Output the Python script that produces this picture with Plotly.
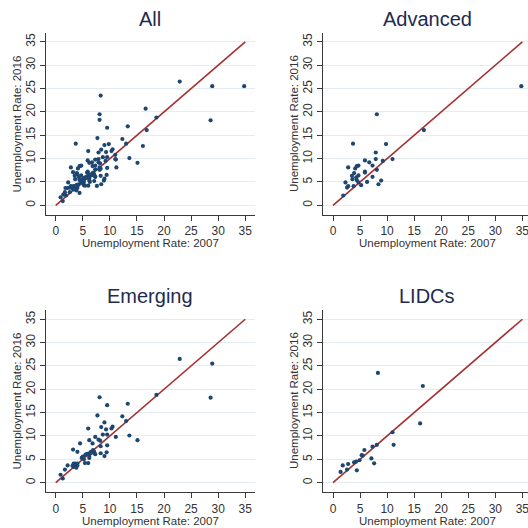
import plotly.graph_objects as go

# ---------------- data (unemployment rates, %) ----------------
adv_x = [34.8, 16.8, 8.1, 3.7, 9.8, 7.9, 11.0, 7.9, 5.9, 6.7, 9.2, 7.3, 4.7, 4.4, 2.8, 4.1, 8.1, 5.9,
         5.9, 3.9, 4.7, 3.5, 7.3, 4.3, 3.6, 4.4, 8.9, 2.3, 6.3, 4.7, 5.2, 8.4, 2.8, 2.6, 1.9, 3.8]
adv_y = [25.5, 16.1, 19.5, 13.2, 13.1, 11.3, 9.9, 9.9, 9.6, 9.2, 9.5, 8.5, 8.5, 8.4, 8.1, 7.9, 7.6, 7.2,
         7.0, 6.9, 6.4, 6.3, 6.1, 6.0, 5.6, 5.4, 5.3, 4.9, 5.0, 4.9, 4.3, 4.5, 4.1, 3.8, 2.1, 4.1]

emg_x = [22.9, 28.9, 28.6, 18.6, 8.1, 9.5, 13.3, 7.7, 12.3, 13.0, 6.0, 9.0, 10.5, 10.3, 9.3, 8.4,
         8.7, 9.5, 11.1, 13.6, 15.1, 7.3, 6.2, 7.9, 8.2, 4.5, 6.8, 9.5, 8.3, 3.2, 4.0, 9.4, 9.0,
         8.3, 7.3, 6.6, 6.9, 6.2, 5.5, 5.0, 5.4, 6.0, 6.2, 6.2, 4.8, 5.8, 6.5, 3.6, 3.3, 4.0, 3.6,
         4.0, 3.3, 3.8, 2.2, 1.7, 0.9, 1.3, 3.1, 5.2, 7.1]
emg_y = [26.5, 25.5, 18.2, 18.8, 18.3, 16.6, 16.9, 14.4, 14.2, 13.2, 11.6, 12.9, 12.0, 11.6, 11.4, 11.9,
         10.3, 10.3, 9.8, 10.1, 9.1, 9.8, 9.1, 9.2, 9.0, 8.4, 8.4, 8.0, 7.8, 7.1, 6.6, 6.5, 5.7,
         6.3, 6.1, 6.4, 7.0, 6.3, 6.0, 5.6, 4.2, 4.2, 5.3, 5.7, 5.3, 6.2, 6.6, 4.1, 4.1, 4.1, 3.7,
         3.7, 3.4, 3.2, 3.7, 2.8, 1.7, 0.9, 3.6, 5.0, 6.6]

lidc_x = [8.3, 16.6, 16.1, 11.0, 11.2, 8.1, 7.3, 5.8, 5.3, 7.1, 7.6, 4.9, 4.25, 3.9, 2.8, 1.8, 2.6,
          1.4, 4.4, 5.5]
lidc_y = [23.5, 20.7, 12.7, 10.8, 8.1, 8.1, 7.7, 7.0, 5.9, 5.2, 4.15, 4.8, 4.5, 4.35, 4.0, 3.7, 2.8,
          2.3, 2.65, 5.8]

all_x = adv_x + emg_x + lidc_x
all_y = adv_y + emg_y + lidc_y

panel_titles = ["All", "Advanced", "Emerging", "LIDCs"]
panel_data = [(all_x, all_y), (adv_x, adv_y), (emg_x, emg_y), (lidc_x, lidc_y)]
line_x = [0, 35]
line_y = [0, 35]
tick_vals = [0, 5, 10, 15, 20, 25, 30, 35]
x_title = "Unemployment Rate: 2007"
y_title = "Unemployment Rate: 2016"

# ---------------- layout geometry (pixels of 528x528 canvas) ----------------
W = H = 528
px = lambda v: v / W
py = lambda v: 1 - v / H

panels = [
    dict(xd=[px(45.7), px(255)], yd=[py(215), py(32.7)], xr=[-1.85, 36.8], yr=[-2.08, 36.96],
         tx=150, ty=19, xtx=150, xty=243, ytx=16.5, yty=124),
    dict(xd=[px(323), 1.0], yd=[py(215), py(32.7)], xr=[-1.85, 36.04], yr=[-2.08, 36.96],
         tx=427, ty=19, xtx=427, xty=243, ytx=294, yty=124),
    dict(xd=[px(45.7), px(255)], yd=[py(492.3), py(310)], xr=[-1.85, 36.8], yr=[-2.06, 36.98],
         tx=150, ty=296, xtx=150, xty=520.5, ytx=16.5, yty=401),
    dict(xd=[px(323), 1.0], yd=[py(492.3), py(310)], xr=[-1.85, 36.04], yr=[-2.06, 36.98],
         tx=427, ty=296, xtx=427, xty=520.5, ytx=294, yty=401),
]

FONT = "Liberation Sans, Arial, Helvetica, sans-serif"
MARKER = "#1d4670"
LINE = "#a5302f"
GRID = "#e4ecf2"
AXIS = "#3a3a3a"
TITLE = "#1e2b4f"

fig = go.Figure()
annotations = []
for i, (p, (xs, ys), title) in enumerate(zip(panels, panel_data, panel_titles)):
    n = "" if i == 0 else str(i + 1)
    fig.add_trace(go.Scatter(x=line_x, y=line_y, mode="lines",
                             line=dict(color=LINE, width=1.6),
                             xaxis="x" + n, yaxis="y" + n, showlegend=False, hoverinfo="skip"))
    fig.add_trace(go.Scatter(x=xs, y=ys, mode="markers",
                             marker=dict(color=MARKER, size=4.2, line=dict(width=0)),
                             xaxis="x" + n, yaxis="y" + n, showlegend=False))
    common = dict(tickvals=tick_vals, ticks="outside", ticklen=5, tickwidth=1, tickcolor=AXIS,
                  showline=True, linecolor=AXIS, linewidth=1, zeroline=False,
                  ticklabeloverflow="allow",
                  tickfont=dict(family=FONT, size=12, color="#333333"), fixedrange=True)
    fig.update_layout(**{
        "xaxis" + n: dict(domain=p["xd"], range=p["xr"], anchor="y" + n, showgrid=False, **common),
        "yaxis" + n: dict(domain=p["yd"], range=p["yr"], anchor="x" + n, showgrid=True,
                          gridcolor=GRID, gridwidth=1, tickangle=-90, **common),
    })
    annotations.append(dict(text=title, x=px(p["tx"]), y=py(p["ty"]), xref="paper", yref="paper",
                            showarrow=False, xanchor="center", yanchor="middle",
                            font=dict(family=FONT, size=20, color=TITLE)))
    annotations.append(dict(text=x_title, x=px(p["xtx"]), y=py(p["xty"]), xref="paper", yref="paper",
                            showarrow=False, xanchor="center", yanchor="middle",
                            font=dict(family=FONT, size=11.5, color="#333333")))
    annotations.append(dict(text=y_title, x=px(p["ytx"]), y=py(p["yty"]), xref="paper", yref="paper",
                            showarrow=False, xanchor="center", yanchor="middle", textangle=-90,
                            font=dict(family=FONT, size=11.5, color="#333333")))

fig.update_layout(width=W, height=H, margin=dict(l=0, r=0, t=0, b=0),
                  paper_bgcolor="white", plot_bgcolor="white",
                  annotations=annotations, showlegend=False)

fig.write_html("out.html", config={"displayModeBar": False},
               post_script="document.body.style.margin='0';document.body.style.overflow='hidden';")
